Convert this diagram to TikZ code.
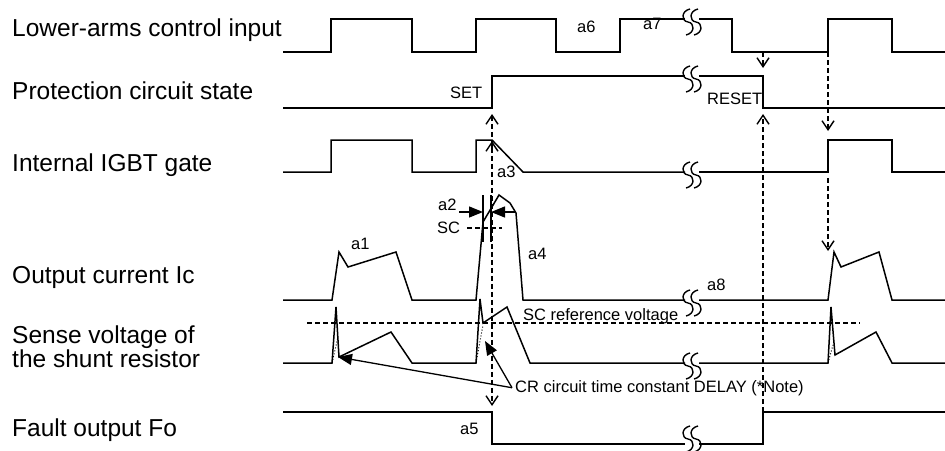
\documentclass[tikz,border=0pt]{standalone}
\usepackage{fontspec}
\setmainfont{Liberation Sans}
\usetikzlibrary{arrows.meta}
\tikzset{
  sig/.style={line width=1.5pt, line join=miter},
  dsh/.style={line width=1.3pt, dash pattern=on 5pt off 3pt},
  barb/.style={-{Straight Barb[length=9pt,width=12pt,line width=1.4pt]}},
  tri/.style={line width=1.3pt, -{Triangle[length=14pt,width=11pt]}},
  lbl/.style={font=\fontsize{24.5}{26}\selectfont, anchor=base west, inner sep=0pt},
  sml/.style={font=\fontsize{16.5}{18}\selectfont, anchor=base west, inner sep=0pt},
  brk/.pic={\draw[line width=1.4pt] (2,-13) .. controls (-7,-11) and (-7,-1) .. (0,0) .. controls (7,1) and (7,11) .. (-2,13);}
}
\begin{document}
\begin{tikzpicture}[x=1pt,y=-1pt]
\useasboundingbox (0,0) rectangle (945,450);
% left labels
\node[lbl] (l1) at (12,36) {Lower-arms control input};
\node[lbl] (l2) at (12,99) {Protection circuit state};
\node[lbl] (l3) at (12,171) {Internal IGBT gate};
\node[lbl] (l4) at (12,283) {Output current Ic};
\node[lbl] (l5a) at (12,343) {Sense voltage of};
\node[lbl] (l5b) at (12,367) {the shunt resistor};
\node[lbl] (l6) at (12,436) {Fault output Fo};
% row 1
\draw[sig] (283,52) -- (331,52) -- (331,19) -- (412,19) -- (412,52) -- (476,52) -- (476,19) -- (556,19) -- (556,52) -- (620,52) -- (620,19) -- (685,19);
\draw[sig] (699,19) -- (732,19) -- (732,52) -- (828,52) -- (828,19) -- (892,19) -- (892,52) -- (945,52);
% row 2
\draw[sig] (283,108) -- (492,108) -- (492,76) -- (685,76);
\draw[sig] (699,76) -- (763,76) -- (763,108) -- (945,108);
% row 3
\draw[sig] (283,172) -- (331,172) -- (331,140) -- (412,140) -- (412,172) -- (476,172) -- (476,140) -- (492,140) -- (523,172) -- (685,172);
\draw[sig] (699,172) -- (828,172) -- (828,140) -- (892,140) -- (892,172) -- (945,172);
% row 4
\draw[sig] (283,300) -- (332,300) -- (339,252) -- (348,267) -- (396,252) -- (412,300) -- (476,300) -- (483,222) -- (499,195) -- (510,203) -- (516,213) -- (523,300) -- (685,300);
\draw[sig] (699,300) -- (828,300) -- (834,252) -- (841,267) -- (879,252) -- (892,300) -- (945,300);
% row 5
\draw[sig] (283,363) -- (332,363) -- (336,307) -- (339,357) -- (391,332) -- (412,363) -- (476,363) -- (480,299) -- (483,323) -- (507,307) -- (530,363) -- (685,363);
\draw[sig] (699,363) -- (828,363) -- (831,307) -- (835,355) -- (876,332) -- (892,363) -- (945,363);
\draw[line width=1pt, dotted] (332,363) -- (338,337);
\draw[line width=1pt, dotted] (476,363) -- (483,325);
\draw[line width=1pt, dotted] (828,363) -- (833,345);
\draw[dsh] (307,323) -- (860,323);
% row 6
\draw[sig] (283,412) -- (492,412) -- (492,444) -- (685,444);
\draw[sig] (699,444) -- (763,444) -- (763,412) -- (945,412);
% break symbols
\foreach \yy in {22,79,175,303,366,439}{
  \pic at (688,\yy) {brk};
  \pic at (696,\yy) {brk};
}
% small labels
\node[sml] (a6) at (577,32) {a6};
\node[sml] (a7) at (643,29) {a7};
\node[sml] (set) at (450,98) {SET};
\node[sml] (reset) at (707,104) {RESET};
\node[sml] (a3) at (497,177) {a3};
\node[sml] (a2) at (438,210) {a2};
\node[sml] (sc) at (437,233) {SC};
\node[sml] (a1) at (351,249) {a1};
\node[sml] (a4) at (528,259) {a4};
\node[sml] (a8) at (707,290) {a8};
\node[sml] (scref) at (523,320) {SC reference voltage};
\node[sml] (cr) at (515,392) {CR circuit time constant DELAY (*Note)};
\node[sml] (a5) at (460,434) {a5};
% a2 markers
\draw[line width=1.3pt] (483,195) -- (483,242);
\draw[line width=1.3pt] (491,195) -- (491,242);
\draw[tri] (459,212) -- (483,212);
\draw[tri] (516,212) -- (491,212);
\draw[dsh] (467,228) -- (502,228);
% CR arrows
\coordinate (t1) at (338,357);
\coordinate (t2) at (485,341);
\draw[tri] ([xshift=-3pt]cr.west) -- (t1);
\draw[tri] ([xshift=-3pt]cr.west) -- (t2);
% dashed arrows
\draw[dsh, {Straight Barb[length=9pt,width=12pt,line width=1.4pt]}-{Straight Barb[length=9pt,width=12pt,line width=1.4pt]}] (492,114) -- (492,406);
\draw[line width=1.3pt, barb] (492,150) -- (492,141);
\draw[dsh, barb] (763,412) -- (763,114);
\draw[dsh, barb] (763,52) -- (763,68);
\draw[dsh, barb] (828,52) -- (828,131);
\draw[dsh, barb] (828,178) -- (828,251);
\end{tikzpicture}
\end{document}
